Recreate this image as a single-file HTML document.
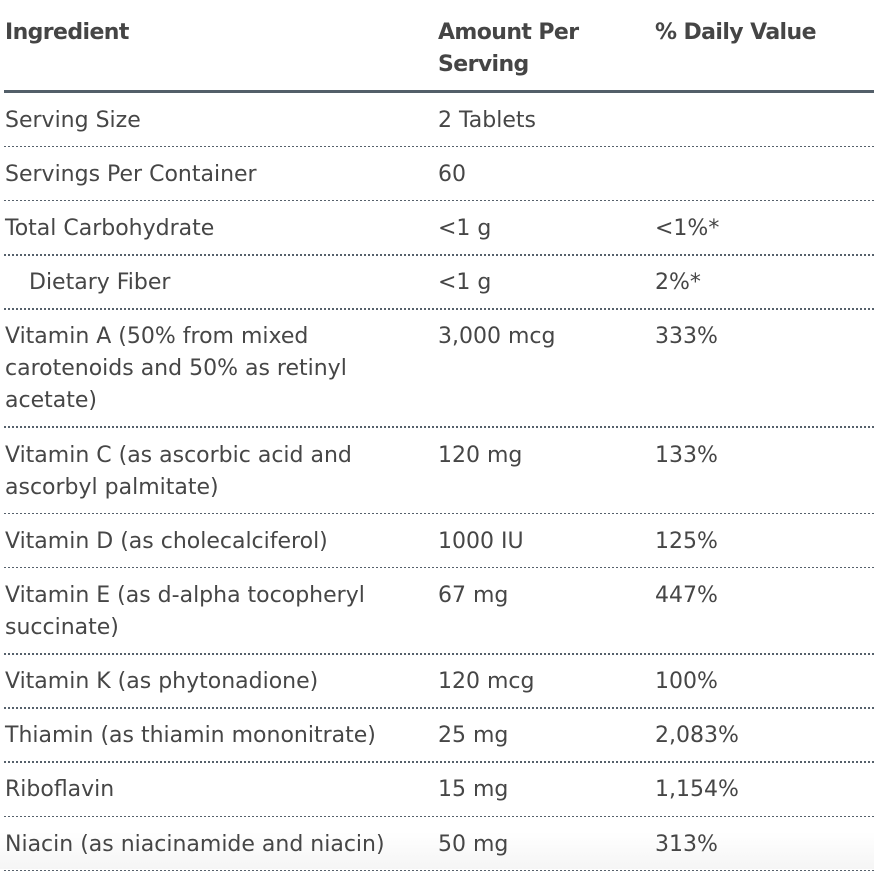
<!DOCTYPE html>
<html>
<head>
<meta charset="utf-8">
<style>
  html, body { margin:0; padding:0; background:#fff; }
  body { width:874px; height:872px; overflow:hidden; position:relative;
         font-family:"DejaVu Sans","Liberation Sans",sans-serif; color:#464646; }
  .fade { position:absolute; left:0; right:0; top:832px; height:37px;
          background:linear-gradient(to bottom, rgba(246,246,246,0), #f5f5f5); z-index:0; }
  .tbl { position:absolute; left:0; top:0; width:874px; z-index:1; }
  .hdr { position:relative; height:90px; }
  .hdr div { position:absolute; top:16.5px; font-weight:bold; font-size:22px; line-height:32px;
             letter-spacing:-0.6px; white-space:nowrap; color:#454545; }
  .thick { position:absolute; left:4px; right:0; top:90px; height:3px; background:#535f69; }
  .rows { position:absolute; left:0; top:93px; width:874px; }
  .row { position:relative; display:flex; padding:11.6px 0 9.6px 0; font-size:22px; line-height:32px; }
  .row::after { content:""; position:absolute; left:4px; right:0; bottom:-1px; height:1.5px;
                background:repeating-linear-gradient(to right, #56616b 0, #56616b 2px, transparent 2px, transparent 4px); }
  .row + .row { margin-top:1px; }
  .c1 { position:absolute; left:5px; white-space:nowrap; }
  .c2 { position:absolute; left:438px; white-space:nowrap; }
  .c3 { position:absolute; left:655px; white-space:nowrap; }
  .l1 { height:32px; } .l2 { height:64px; } .l3 { height:96px; }
  .ind { left:29px; }
</style>
</head>
<body>
<div class="fade"></div>
<div class="tbl">
  <div class="hdr">
    <div style="left:5px">Ingredient</div>
    <div style="left:438px">Amount Per<br>Serving</div>
    <div style="left:655px">% Daily Value</div>
  </div>
  <div class="thick"></div>
  <div class="rows">
    <div class="row"><div class="l1"></div><span class="c1">Serving Size</span><span class="c2">2 Tablets</span><span class="c3"></span></div>
    <div class="row"><div class="l1"></div><span class="c1">Servings Per Container</span><span class="c2">60</span><span class="c3"></span></div>
    <div class="row"><div class="l1"></div><span class="c1">Total Carbohydrate</span><span class="c2">&lt;1 g</span><span class="c3">&lt;1%*</span></div>
    <div class="row"><div class="l1"></div><span class="c1 ind">Dietary Fiber</span><span class="c2">&lt;1 g</span><span class="c3">2%*</span></div>
    <div class="row"><div class="l3"></div><span class="c1">Vitamin A (50% from mixed<br>carotenoids and 50% as retinyl<br>acetate)</span><span class="c2">3,000 mcg</span><span class="c3">333%</span></div>
    <div class="row"><div class="l2"></div><span class="c1">Vitamin C (as ascorbic acid and<br>ascorbyl palmitate)</span><span class="c2">120 mg</span><span class="c3">133%</span></div>
    <div class="row"><div class="l1"></div><span class="c1">Vitamin D (as cholecalciferol)</span><span class="c2">1000 IU</span><span class="c3">125%</span></div>
    <div class="row"><div class="l2"></div><span class="c1">Vitamin E (as d-alpha tocopheryl<br>succinate)</span><span class="c2">67 mg</span><span class="c3">447%</span></div>
    <div class="row"><div class="l1"></div><span class="c1">Vitamin K (as phytonadione)</span><span class="c2">120 mcg</span><span class="c3">100%</span></div>
    <div class="row"><div class="l1"></div><span class="c1">Thiamin (as thiamin mononitrate)</span><span class="c2">25 mg</span><span class="c3">2,083%</span></div>
    <div class="row"><div class="l1"></div><span class="c1">Riboflavin</span><span class="c2">15 mg</span><span class="c3">1,154%</span></div>
    <div class="row"><div class="l1"></div><span class="c1">Niacin (as niacinamide and niacin)</span><span class="c2">50 mg</span><span class="c3">313%</span></div>
  </div>
</div>
</body>
</html>
